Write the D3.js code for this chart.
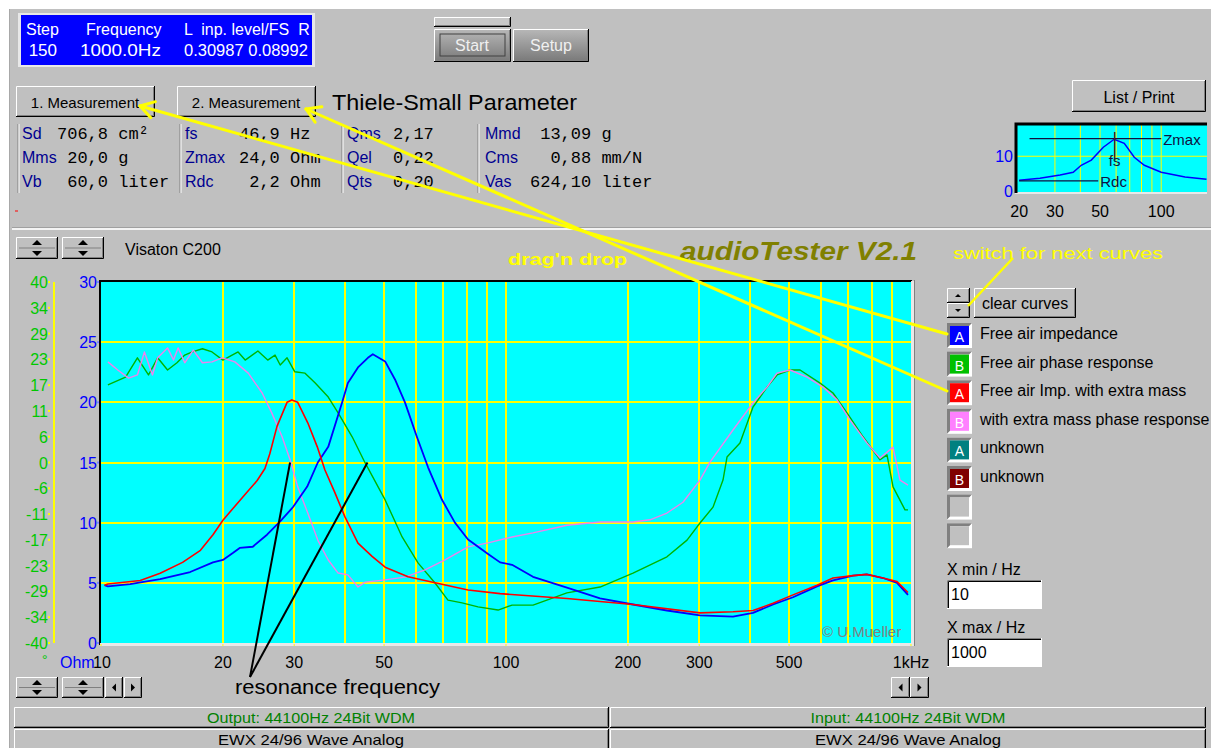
<!DOCTYPE html>
<html><head><meta charset="utf-8">
<script src="https://cdn.jsdelivr.net/npm/d3@7"></script>
<style>
html,body{margin:0;padding:0;background:#fff;overflow:hidden;}
svg{display:block;font-family:"Liberation Sans",Arial,sans-serif;}
.mono{font-family:"Liberation Mono","Courier New",monospace;white-space:pre;}
</style></head><body>
<svg id="c" width="1211" height="748"></svg>
<script>
// ================= DATA =================
// Free air impedance (blue, Ohm)
const freeImpFreq=[10.2,10.4,11.8,14.0,16.6,18.9,20.0,21.2,22.0,23.7,25.7,27.7,29.8,32.3,34.3,36.4,39.4,40.7,43.1,45.6,46.9,50.3,53.2,56.3,60.3,64.2,69.5,74.8,80.6,90.3,96.7,103.5,116.6,141.4,170.7,205.9,249.7,301.3,363.5,407.3,456.4,511.3,586.2,641.9,719.3,778.8,853.0,923.5,983.1];
const freeImpOhm=[4.8,4.7,4.9,5.3,5.9,6.7,6.9,7.5,7.9,8.0,9.0,10.1,11.3,13.0,15.0,16.3,20.0,21.6,22.9,23.7,24.0,23.4,21.9,20.0,17.1,14.6,11.9,10.0,8.6,7.4,6.7,6.5,5.5,4.6,3.7,3.2,2.7,2.3,2.2,2.5,3.2,3.8,4.7,5.2,5.6,5.7,5.4,5.0,4.0];
// Free air impedance with extra mass (red, Ohm)
const massImpFreq=[10.2,10.4,12.5,14.0,15.9,17.6,18.9,20.0,21.2,22.9,24.3,25.4,26.1,27.2,28.8,29.6,30.6,32.4,34.2,35.7,37.8,40.0,43.1,46.7,50.3,57.3,66.8,80.6,96.7,141.4,205.9,301.3,363.5,407.3,456.4,511.3,586.2,641.9,719.3,778.8,853.0,923.5,983.1];
const massImpOhm=[4.8,4.9,5.2,5.8,6.7,7.7,9.0,10.2,11.2,12.5,13.5,14.5,15.7,18.0,20.0,20.2,20.0,18.3,16.3,14.4,12.5,10.5,8.3,7.2,6.3,5.5,5.0,4.4,4.1,3.7,3.2,2.5,2.6,2.7,3.3,4.0,4.8,5.4,5.6,5.7,5.4,5.1,4.2];
// Free air phase response (green, degrees)
const freePhaseFreq=[10.4,11.5,12.3,13.1,13.8,14.6,15.4,16.1,16.8,17.8,18.8,20.0,21.8,22.7,24.4,25.8,26.9,27.7,28.8,30.1,31.9,33.8,36.4,38.5,41.7,44.9,50.3,55.4,60.7,66.8,71.9,77.9,85.3,95.6,103.5,116.6,141.4,170.7,205.9,249.7,279.9,301.3,324.4,343.4,351.3,378.2,407.3,441.1,466.9,502.8,532.2,596.3,641.9,695.0,761.3,838.6,872.5,902.9,966.5,983.1];
const freePhaseDeg=[17.2,18.9,23.2,19.4,23.2,20.5,22.1,23.8,24.5,25.2,24.5,22.7,24.5,22.7,24.7,22.7,23.8,21.6,23.2,20.1,19.8,17.6,14.5,11.0,5.7,-0.1,-8.3,-16.5,-22.3,-26.7,-30.5,-31.1,-32.0,-32.7,-31.6,-31.6,-28.9,-27.6,-24.5,-20.9,-17.2,-13.4,-9.9,-3.9,1.2,4.3,12.3,16.7,19.4,20.5,20.5,17.6,15.4,11.0,5.7,0.6,1.7,-5.4,-10.5,-10.5];
// Phase response with extra mass (pink, degrees)
const massPhaseFreq=[10.4,11.0,11.7,12.3,12.8,13.4,13.8,14.6,15.1,15.5,16.1,16.9,17.8,18.8,19.9,21.4,23.1,25.0,26.4,28.0,29.3,30.6,32.4,34.3,36.4,38.5,40.7,43.1,44.9,50.3,56.3,63.1,70.7,80.6,90.3,103.5,116.6,141.4,170.7,205.9,226.8,249.7,273.5,301.3,318.9,363.5,407.3,441.1,466.9,502.8,553.7,606.6,656.8,707.1,778.8,838.6,902.9,939.3,983.1];
const massPhaseDeg=[22.3,20.5,18.7,19.4,24.5,19.4,23.2,25.4,22.7,25.4,22.1,24.9,22.1,22.3,23.2,22.3,19.8,15.4,11.0,5.7,0.6,-5.4,-11.2,-17.2,-21.6,-24.5,-24.9,-27.6,-26.5,-26.0,-25.4,-23.8,-21.6,-18.7,-17.8,-16.5,-15.6,-13.9,-13.2,-13.2,-12.7,-11.2,-8.8,-3.9,0.1,7.2,13.2,16.7,19.8,20.5,18.9,16.7,13.9,9.4,4.3,1.0,3.4,-3.9,-5.0];
// Axis ticks
const xTickValues=[10,20,30,50,100,200,300,500,1000];
const xTickText=['10','20','30','50','100','200','300','500','1kHz'];
const xGridValues=[20,30,40,50,60,70,80,90,100,200,300,400,500,600,700,800,900];
const ohmTicks=[0,5,10,15,20,25,30];
const phaseTickText=['40','34','29','23','17','11','6','0','-6','-11','-17','-23','-29','-34','-40'];
// Legend
const legendNames=['Free air impedance','Free air phase response','Free air Imp. with extra mass','with extra mass phase response','unknown','unknown','',''];
const legendLetters=['A','B','A','B','A','B','',''];
const legendColors=['#0000ff','#00c000','#ff0000','#ff80ff','#008080','#800000',null,null];
// Thiele-Small parameters
const paramLabels=[['Sd','Mms','Vb'],['fs','Zmax','Rdc'],['Qms','Qel','Qts'],['Mmd','Cms','Vas']];
const paramValues=[['706,8 cm\u00b2',' 20,0 g',' 60,0 liter'],['46,9 Hz','24,0 Ohm',' 2,2 Ohm'],['2,17','0,22','0,20'],[' 13,09 g','  0,88 mm/N','624,10 liter']];
// Mini overview chart (as drawn in the thumbnail)
const miniFreq=[20,25.3,31.8,36.9,40.4,45.3,51.9,58.7,65.8,73.7,82.6,100,131,167];
const miniOhm=[3.1,3.7,4.6,5.4,7.4,8.9,12.6,14.9,13.7,9.7,7.4,5.4,4.0,3.4];
const miniTickValues=[20,30,50,100];
const miniGridValues=[30,40,50,60,70,80,90,100];
const miniZmax=15.1, miniRdc=2.9, miniFs=59;

// ================= DRAW =================
const svg=d3.select('#c');

function raised(g,x,y,w,h,face){
  g.append('rect').attr('x',x).attr('y',y).attr('width',w).attr('height',h).attr('fill',face||'#c0c0c0');
  g.append('path').attr('d',`M${x+.5},${y+h-1}V${y+.5}H${x+w-1}`).attr('stroke','#fff').attr('fill','none');
  g.append('path').attr('d',`M${x},${y+h-.5}H${x+w-.5}V${y}`).attr('stroke','#000').attr('fill','none');
  g.append('path').attr('d',`M${x+1},${y+h-1.5}H${x+w-1.5}V${y+1}`).attr('stroke','#808080').attr('fill','none');
}
function sunken(g,x,y,w,h,face){
  g.append('rect').attr('x',x).attr('y',y).attr('width',w).attr('height',h).attr('fill',face||'#fff');
  g.append('path').attr('d',`M${x+.5},${y+h}V${y+.5}H${x+w}`).attr('stroke','#808080').attr('fill','none');
  g.append('path').attr('d',`M${x+1.5},${y+h-1}V${y+1.5}H${x+w-1}`).attr('stroke','#000').attr('fill','none');
  g.append('path').attr('d',`M${x},${y+h-.5}H${x+w-.5}V${y}`).attr('stroke','#fff').attr('fill','none');
}
function text(g,x,y,s,opt){
  opt=opt||{};
  const t=g.append('text').attr('x',x).attr('y',y).text(s)
    .attr('font-size',opt.size||16).attr('fill',opt.fill||'#000')
    .attr('text-anchor',opt.anchor||'start');
  if(opt.weight) t.attr('font-weight',opt.weight);
  if(opt.style) t.attr('font-style',opt.style);
  if(opt.cls) t.attr('class',opt.cls);
  if(opt.len) t.attr('textLength',opt.len).attr('lengthAdjust','spacingAndGlyphs');
  return t;
}
function spinner(g,x,y,w,h){
  raised(g,x,y,w,h);
  const cx=x+w/2;
  g.append('path').attr('d',`M${cx-5},${y+8}L${cx+5},${y+8}L${cx},${y+3}Z`).attr('fill','#000');
  g.append('path').attr('d',`M${cx-5},${y+h-8}L${cx+5},${y+h-8}L${cx},${y+h-3}Z`).attr('fill','#000');
  g.append('line').attr('x1',x+3).attr('x2',x+w-3).attr('y1',y+h/2).attr('y2',y+h/2).attr('stroke','#808080');
}
function arrowBtn(g,x,y,w,h,dir){
  raised(g,x,y,w,h);
  const cx=x+w/2, cy=y+h/2;
  const d=dir<0?`M${cx+2},${cy-4}L${cx+2},${cy+4}L${cx-2},${cy}Z`:`M${cx-2},${cy-4}L${cx-2},${cy+4}L${cx+2},${cy}Z`;
  g.append('path').attr('d',d).attr('fill','#000');
}

// background
svg.append('rect').attr('width',1211).attr('height',748).attr('fill','#fff');
svg.append('rect').attr('x',9).attr('y',9).attr('width',1202).attr('height',739).attr('fill','#c0c0c0');
svg.append('line').attr('x1',9.5).attr('x2',9.5).attr('y1',9).attr('y2',748).attr('stroke','#a8a8a8');

const topG=svg.append('g');
// info panel
topG.append('rect').attr('x',18).attr('y',13).attr('width',297).attr('height',54).attr('fill','#e8e8e8');
topG.append('rect').attr('x',21).attr('y',15).attr('width',291).attr('height',50).attr('fill','#0000ff');
text(topG,26,35,'Step',{fill:'#fff',size:16});
text(topG,86,35,'Frequency',{fill:'#fff',size:16});
text(topG,184,35,'L  inp. level/FS  R',{fill:'#fff',size:16}).style('white-space','pre');
text(topG,57,56,'150',{fill:'#fff',size:17,anchor:'end'});
text(topG,80,56,'1000.0Hz',{fill:'#fff',size:17,len:81});
text(topG,184,56,'0.30987 0.08992',{fill:'#fff',size:16.5});

// start/setup
const grad=svg.append('defs').append('linearGradient').attr('id','bg').attr('x1',0).attr('x2',0).attr('y1',0).attr('y2',1);
grad.append('stop').attr('offset','0').attr('stop-color','#b8b8b8');
grad.append('stop').attr('offset','1').attr('stop-color','#787878');
raised(topG,434,17,77,10,'#c8c8c8');
raised(topG,434,29,77,33,'url(#bg)');
topG.append('rect').attr('x',440).attr('y',34).attr('width',65).attr('height',22).attr('fill','none').attr('stroke','#404040');
text(topG,472,51,'Start',{fill:'#f0f0f0',size:16,anchor:'middle'});
raised(topG,513,29,76,33,'url(#bg)');
text(topG,551,51,'Setup',{fill:'#f0f0f0',size:16,anchor:'middle'});

// measurement buttons
raised(topG,16,86,139,31);
text(topG,85,108,'1. Measurement',{size:15,anchor:'middle'});
raised(topG,177,86,139,31);
text(topG,246,108,'2. Measurement',{size:15,anchor:'middle'});
text(topG,332,110,'Thiele-Small Parameter',{size:22,len:245});

// parameters
const sepX=[18,180,342,478], labX=[22,185,347,485], valX=[57,239,393,530], rowY=[139,163,187];
paramLabels.forEach((col,ci)=>{
  topG.append('line').attr('x1',sepX[ci]).attr('x2',sepX[ci]).attr('y1',124).attr('y2',193).attr('stroke','#808080');
  topG.append('line').attr('x1',sepX[ci]+1).attr('x2',sepX[ci]+1).attr('y1',124).attr('y2',193).attr('stroke','#fff');
  col.forEach((lab,ri)=>{
    text(topG,labX[ci],rowY[ri],lab,{size:16,fill:'#000090'});
    text(topG,valX[ci],rowY[ri],paramValues[ci][ri],{size:17,cls:'mono'});
  });
});
topG.append('line').attr('x1',15).attr('x2',18).attr('y1',211).attr('y2',211).attr('stroke','#ff0000');

// List / Print
raised(topG,1072,80,134,32);
text(topG,1139,103,'List / Print',{size:16,anchor:'middle'});

// mini chart
const mx=d3.scaleLog().domain([19.3,168]).range([1016,1207]);
const my=d3.scaleLinear().domain([0,19]).range([191,125]);
const mini=svg.append('g');
mini.append('rect').attr('x',1016).attr('y',125).attr('width',191).attr('height',67).attr('fill','#00ffff');
miniGridValues.forEach(v=>mini.append('line').attr('x1',mx(v)).attr('x2',mx(v)).attr('y1',125).attr('y2',192).attr('stroke','#ffff00'));
mini.append('line').attr('x1',1016).attr('x2',1207).attr('y1',my(10)).attr('y2',my(10)).attr('stroke','#ffff00');
mini.append('line').attr('x1',1015).attr('x2',1207).attr('y1',193).attr('y2',193).attr('stroke','#e8e8e8').attr('stroke-width',2);
mini.append('path').attr('d',`M1016,193V124H1207`).attr('stroke','#000').attr('stroke-width',3).attr('fill','none');
mini.append('path').datum(miniFreq.map((f,i)=>[f,miniOhm[i]]))
  .attr('d',d3.line().x(d=>mx(d[0])).y(d=>my(d[1]))).attr('fill','none').attr('stroke','#0000ff').attr('stroke-width',1.5);
mini.append('line').attr('x1',mx(22.5)).attr('x2',mx(100)).attr('y1',my(miniZmax)).attr('y2',my(miniZmax)).attr('stroke','#101040').attr('stroke-width',1.3);
text(mini,mx(100)+2,my(miniZmax)+6,'Zmax',{size:15,fill:'#101040'});
mini.append('line').attr('x1',mx(20)).attr('x2',mx(49)).attr('y1',my(miniRdc)).attr('y2',my(miniRdc)).attr('stroke','#101040').attr('stroke-width',1.3);
text(mini,mx(49)+2,my(miniRdc)+6,'Rdc',{size:15,fill:'#101040'});
mini.append('line').attr('x1',mx(miniFs)).attr('x2',mx(miniFs)).attr('y1',my(17)).attr('y2',my(9)).attr('stroke','#402020').attr('stroke-width',1.5);
text(mini,mx(miniFs),my(9)+6,'fs',{size:15,fill:'#101040',anchor:'middle'});
text(mini,1013,162,'10',{size:16,fill:'#0000ff',anchor:'end'});
text(mini,1013,197,'0',{size:16,fill:'#0000ff',anchor:'end'});
miniTickValues.forEach(v=>text(mini,mx(v),217,String(v),{size:16,anchor:'middle'}));

// separator groove
svg.append('line').attr('x1',12).attr('x2',1211).attr('y1',227.5).attr('y2',227.5).attr('stroke','#a0a0a0');
svg.append('line').attr('x1',12).attr('x2',1211).attr('y1',229).attr('y2',229).attr('stroke','#f4f4f4').attr('stroke-width',2);

// header of chart panel
spinner(svg,16,237,42,22);
spinner(svg,62,237,42,22);
text(svg,125,255,'Visaton C200',{size:16});
text(svg,508,265,"drag'n drop",{size:17,weight:'bold',fill:'#ffff00',len:119});
text(svg,680,260,'audioTester V2.1',{size:25,weight:'bold',style:'italic',fill:'#808000',len:237});
text(svg,953,259,'switch for next curves',{size:17,fill:'#ffff00',len:210});

// ---------- main plot ----------
const L=101,R=911,T=282,B=643;
const x=d3.scaleLog().domain([10,1000]).range([L,R]);
const yO=d3.scaleLinear().domain([0,30]).range([B,T]);
const yP=d3.scaleLinear().domain([-40,40]).range([B,T]);
const plot=svg.append('g');
plot.append('rect').attr('x',L).attr('y',T).attr('width',R-L).attr('height',B-T).attr('fill','#00ffff');
plot.append('defs').append('clipPath').attr('id','clip').append('rect').attr('x',L).attr('y',T).attr('width',R-L).attr('height',B-T);
const grid=plot.append('g').attr('stroke','#ffff00').attr('stroke-width',2).attr('shape-rendering','crispEdges');
xGridValues.forEach(v=>grid.append('line').attr('x1',Math.round(x(v))).attr('x2',Math.round(x(v))).attr('y1',T).attr('y2',B));
ohmTicks.slice(1,-1).forEach(v=>grid.append('line').attr('x1',L).attr('x2',R).attr('y1',Math.round(yO(v))).attr('y2',Math.round(yO(v))));
// frame
plot.append('path').attr('d',`M${L-1},${B+2}V${T-1}H${R+1}`).attr('stroke','#000').attr('stroke-width',2).attr('fill','none');
plot.append('path').attr('d',`M${L-1},${B+1.5}H${R+1.5}V${T-1}`).attr('stroke','#e8e8e8').attr('stroke-width',3).attr('fill','none');
plot.append('path').attr('d',`M${R+3.5},${T-2}V${B+3}`).attr('stroke','#808080').attr('stroke-width',1).attr('fill','none');
xTickValues.forEach(v=>plot.append('line').attr('x1',x(v)).attr('x2',x(v)).attr('y1',B+1).attr('y2',B+3).attr('stroke','#ffff00'));
text(plot,822,637,'\u00a9 U.Mueller',{size:15,fill:'#808080'});

// curves
const curves=plot.append('g').attr('clip-path','url(#clip)');
function curve(fr,vals,sc,color,w){
  curves.append('path').datum(fr.map((f,i)=>[f,vals[i]]))
    .attr('d',d3.line().x(d=>x(d[0])).y(d=>sc(d[1])))
    .attr('fill','none').attr('stroke',color).attr('stroke-width',w).attr('stroke-linejoin','round');
}
curve(freePhaseFreq,freePhaseDeg,yP,'#00b400',1.4);
curve(massPhaseFreq,massPhaseDeg,yP,'#ee82ee',1.4);
curve(freeImpFreq,freeImpOhm,yO,'#0000ff',1.8);
curve(massImpFreq,massImpOhm,yO,'#ff0000',1.6);

// left axes
const ax=svg.append('g');
ax.append('line').attr('x1',54).attr('x2',54).attr('y1',T).attr('y2',B).attr('stroke','#ffff00').attr('stroke-width',2);
phaseTickText.forEach((t,i)=>{
  const v=40-i*80/14, yy=yP(v);
  text(ax,48,yy+6,t,{size:16,fill:'#00c800',anchor:'end'});
  ax.append('rect').attr('x',48).attr('y',yy-1).attr('width',2).attr('height',2).attr('fill','#ffff00');
});
text(ax,42,665,'\u00b0',{size:14,fill:'#00c800'});
ohmTicks.forEach(v=>{
  text(ax,97,yO(v)+6,String(v),{size:16,fill:'#0000ff',anchor:'end'});
  ax.append('rect').attr('x',97).attr('y',yO(v)-1).attr('width',2).attr('height',2).attr('fill','#8080ff');
});
text(ax,60,668,'Ohm',{size:16,fill:'#0000ff'});
xTickValues.forEach((v,i)=>{
  text(ax,i===0?93:x(v),668,xTickText[i],{size:16,anchor:i===0?'start':'middle'});
});

// bottom controls
spinner(svg,16,677,42,21);
spinner(svg,62,677,42,21);
arrowBtn(svg,105,677,18,21,-1);
arrowBtn(svg,124,677,18,21,1);
arrowBtn(svg,891,677,19,21,-1);
arrowBtn(svg,910,677,19,21,1);
text(svg,235,694,'resonance frequency',{size:20,len:205});

// resonance annotation lines (from label to the two impedance peaks region)
const ann=svg.append('g');
const resFrom=[250,677];
[[x(29.3),yO(15)],[x(45.5),yO(15)]].forEach(p=>{
  ann.append('line').attr('x1',resFrom[0]).attr('y1',resFrom[1]).attr('x2',p[0]).attr('y2',p[1]).attr('stroke','#000').attr('stroke-width',2);
});

// legend
const lg=svg.append('g');
raised(lg,947,288,23,15);
lg.append('path').attr('d','M955,297L961,297L958,294Z').attr('fill','#000');
raised(lg,947,303,23,15);
lg.append('path').attr('d','M955,309L961,309L958,312Z').attr('fill','#000');
raised(lg,974,288,102,30);
text(lg,1025,309,'clear curves',{size:16,anchor:'middle'});
legendNames.forEach((n,i)=>{
  const by=323+i*28.6;
  lg.append('rect').attr('x',947).attr('y',by).attr('width',25).attr('height',25).attr('fill','#fff');
  lg.append('path').attr('d',`M947,${by+25}V${by}H972L969,${by+3}H950V${by+22}Z`).attr('fill','#808080');
  if(legendColors[i]){
    lg.append('rect').attr('x',950).attr('y',by+3).attr('width',19).attr('height',19).attr('fill',legendColors[i]);
    text(lg,959.5,by+19,legendLetters[i],{size:14,fill:'#fff',anchor:'middle'});
  } else {
    lg.append('rect').attr('x',950).attr('y',by+3).attr('width',19).attr('height',19).attr('fill','#c0c0c0');
  }
  if(n) text(lg,980,by+16,n,{size:16});
});
text(lg,947,575,'X min / Hz',{size:16});
sunken(lg,947,580,95,29);
text(lg,951,600,'10',{size:16});
text(lg,947,633,'X max / Hz',{size:16});
sunken(lg,947,638,95,29);
text(lg,951,658,'1000',{size:16});

// status bar
const sb=svg.append('g');
raised(sb,14,707,595,21,'#c0c0c0');
raised(sb,610,707,596,21,'#c0c0c0');
raised(sb,14,729,595,21,'#c0c0c0');
raised(sb,610,729,596,21,'#c0c0c0');
text(sb,311,723,'Output: 44100Hz 24Bit WDM',{size:15,fill:'#008000',anchor:'middle',len:208});
text(sb,908,723,'Input: 44100Hz 24Bit WDM',{size:15,fill:'#008000',anchor:'middle',len:195});
text(sb,311,745,'EWX 24/96 Wave Analog',{size:15,anchor:'middle',len:186});
text(sb,908,745,'EWX 24/96 Wave Analog',{size:15,anchor:'middle',len:186});

// yellow drag'n drop arrows (legend item -> measurement button)
const yl=svg.append('g');
function arrow(from,to){
  yl.append('line').attr('x1',from[0]).attr('y1',from[1]).attr('x2',to[0]).attr('y2',to[1]).attr('stroke','#ffff00').attr('stroke-width',3).attr('stroke-linecap','round');
  const a=Math.atan2(from[1]-to[1],from[0]-to[0]);
  [-0.55,0.55].forEach(da=>{
    yl.append('line').attr('x1',to[0]).attr('y1',to[1]).attr('x2',to[0]+16*Math.cos(a+da)).attr('y2',to[1]+16*Math.sin(a+da))
      .attr('stroke','#ffff00').attr('stroke-width',3).attr('stroke-linecap','round');
  });
}
arrow([947,334],[140,106]);
arrow([947,391],[306,109]);
yl.append('line').attr('x1',1013).attr('y1',258).attr('x2',968).attr('y2',306).attr('stroke','#ffff00').attr('stroke-width',2.5);
</script>
</body></html>
